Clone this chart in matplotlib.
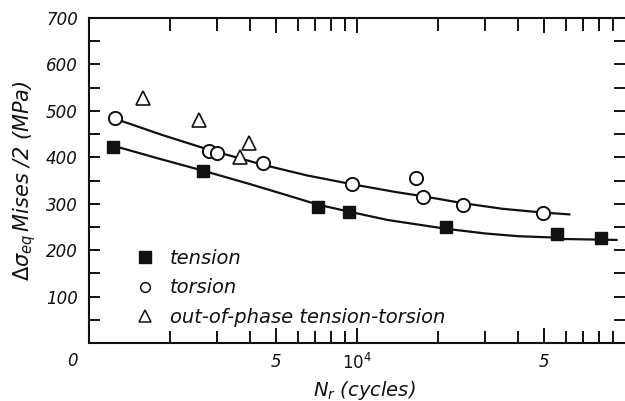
import numpy as np
import matplotlib
matplotlib.use("Agg")
import matplotlib.pyplot as plt
from matplotlib.ticker import FixedLocator, NullFormatter

plt.rcParams['font.family'] = ['DejaVu Sans']
plt.rcParams['mathtext.fontset'] = 'dejavusans'

# data
tension_n = [1230, 2670, 7150, 9330, 21500, 55600, 81300]
tension_s = [422, 371, 293, 282, 250, 235, 226]

torsion_n = [1250, 2810, 3010, 4450, 9570, 16600, 17700, 24900, 49300]
torsion_s = [485, 414, 410, 388, 343, 356, 315, 297, 280]

oop_n = [1590, 2580, 3950, 3650]
oop_s = [528, 481, 431, 401]

# fitted curves as drawn in the figure
tension_fit_n = [1230, 1800, 2670, 4000, 5500, 7150, 9330, 13000, 21500, 30000, 40000, 55600]
tension_fit_s = [425, 398, 371, 342, 318, 298, 283, 265, 246, 236, 230, 227]
tension_tail_n = [59000, 93000]
tension_tail_s = [224, 222]

torsion_fit_n = [1250, 1900, 2810, 4450, 6500, 9570, 14000, 17700, 24900, 35000, 49300, 62000]
torsion_fit_s = [483, 447, 416, 384, 361, 342, 325, 316, 301, 289, 281, 277]

xticks_major = [1000, 5000, 10000, 50000]
xtick_labels = ['0', '5', r'$10^4$', '5']
xticks_minor = [2000, 3000, 4000, 6000, 7000, 8000, 9000,
                20000, 30000, 40000, 60000, 70000, 80000, 90000]
yticks = [100, 200, 300, 400, 500, 600, 700]

fig = plt.figure(figsize=(6.25, 4.01), dpi=100)
ax = fig.add_axes([89/625, 58/401, 536/625, 325/401])
ax.set_xscale('log')
ax.set_xlim(1000, 100000)
ax.set_ylim(0, 700)

ink = '#111111'
ax.plot(tension_fit_n, tension_fit_s, color=ink, lw=1.6, zorder=2)
ax.plot(tension_tail_n, tension_tail_s, color=ink, lw=1.6, zorder=2)
ax.plot(torsion_fit_n, torsion_fit_s, color=ink, lw=1.6, zorder=2)

ax.plot(tension_n, tension_s, 's', ms=8.5, color=ink, zorder=3)
ax.plot(torsion_n, torsion_s, 'o', ms=9.5, mfc='white', mec=ink, mew=1.4, zorder=3)
ax.plot(oop_n, oop_s, '^', ms=10, mfc='white', mec=ink, mew=1.2, zorder=3)

# legend drawn as proxies
h1, = ax.plot([], [], 's', ms=8, color=ink)
h2, = ax.plot([], [], 'o', ms=7, mfc='white', mec=ink, mew=1.1)
h3, = ax.plot([], [], '^', ms=9, mfc='white', mec=ink, mew=1.1)
leg = ax.legend([h1, h2, h3], ['tension', 'torsion', 'out-of-phase tension-torsion'],
                loc='lower left', bbox_to_anchor=(0.068, 0.025), frameon=False,
                borderaxespad=0, prop={'style': 'italic', 'size': 14},
                handletextpad=0.7, labelspacing=0.55, handlelength=1.2)
for t in leg.get_texts():
    t.set_color(ink)

for s in ['left', 'bottom', 'top']:
    ax.spines[s].set_linewidth(1.5)
    ax.spines[s].set_color(ink)
ax.spines['right'].set_visible(False)

ax.xaxis.set_major_locator(FixedLocator(xticks_major))
ax.set_xticklabels(xtick_labels, fontstyle='italic', fontsize=12, color=ink)
ax.xaxis.set_minor_locator(FixedLocator(xticks_minor))
ax.xaxis.set_minor_formatter(NullFormatter())
ax.set_yticks(yticks)
ax.set_yticklabels([str(v) for v in yticks], fontstyle='italic', fontsize=12, color=ink)
ax.yaxis.set_minor_locator(FixedLocator([50, 150, 250, 350, 450, 550, 650]))

ax.tick_params(axis='x', which='both', direction='in', top=True, bottom=True,
               width=1.4, color=ink, pad=7)
ax.tick_params(axis='x', which='major', length=11)
ax.tick_params(axis='x', which='minor', length=9)
ax.tick_params(axis='y', which='both', direction='in', left=True, right=True,
               width=1.4, color=ink, length=8, pad=8)
# the "0" of the first decade sits a bit to the left of the spine
ax.get_xticklabels()[0].set_visible(False)
ax.text(870, -38, '0', ha='center', va='center', fontstyle='italic', fontsize=12,
        color=ink, clip_on=False)

ax.set_xlabel(r'$N_r$ (cycles)', fontstyle='italic', fontsize=14, color=ink)
ax.xaxis.set_label_coords(0.513, -0.11)
ax.set_ylabel(r'$\Delta\sigma_{eq}\,$Mises /2 (MPa)', fontstyle='italic', fontsize=15,
              color=ink, labelpad=6)

fig.savefig('out.png', dpi=100)
